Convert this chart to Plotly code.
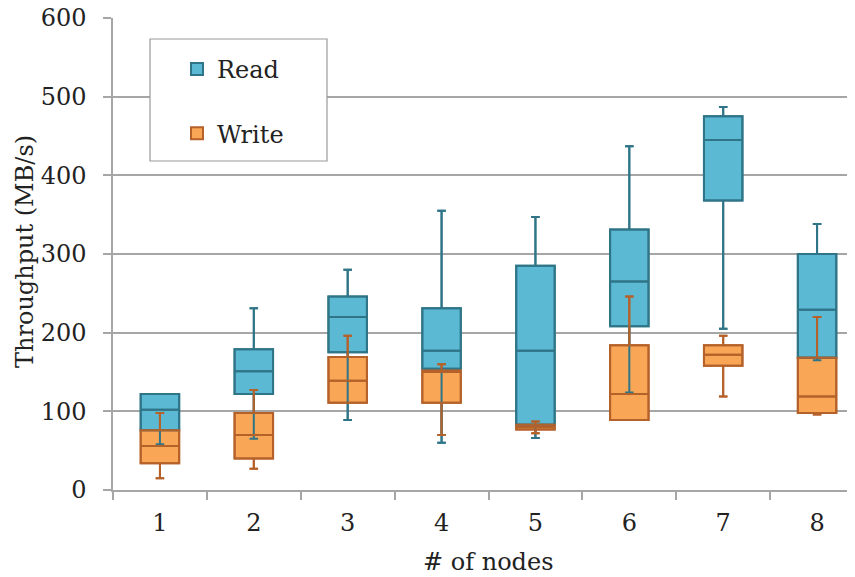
import plotly.graph_objects as go

nodes = ["1", "2", "3", "4", "5", "6", "7", "8"]

read_low = [58, 65, 89, 60, 66, 124, 205, 165]
read_q1 = [76, 122, 175, 154, 83, 208, 368, 168]
read_med = [102, 151, 220, 177, 177, 265, 445, 229]
read_q3 = [122, 179, 246, 231, 285, 331, 475, 300]
read_high = [122, 231, 280, 355, 347, 437, 487, 338]

write_low = [15, 27, 111, 70, 72, 89, 119, 96]
write_q1 = [34, 40, 111, 111, 77, 89, 158, 98]
write_med = [56, 70, 139, 150, 80, 122, 172, 119]
write_q3 = [76, 98, 169, 152, 83, 184, 184, 168]
write_high = [98, 127, 196, 160, 87, 246, 196, 220]

READ_FILL, READ_LINE = "#5BB9D3", "#2F7587"
WRITE_FILL, WRITE_LINE = "#F9A656", "#B5612A"
FONT = "DejaVu Serif"

fig = go.Figure()


def add_box(name, low, q1, med, q3, high, fill, line, show, group):
    fig.add_trace(go.Box(
        name=name, x=nodes, lowerfence=low, q1=q1, median=med, q3=q3,
        upperfence=high, fillcolor=fill, line=dict(color=line, width=2),
        whiskerwidth=0.22, width=0.41, showlegend=show, legendgroup=group,
        boxpoints=False,
    ))


add_box("Read", read_low, read_q1, read_med, read_q3, read_high,
        READ_FILL, READ_LINE, True, "r")
add_box("Write", write_low, write_q1, write_med, write_q3, write_high,
        WRITE_FILL, WRITE_LINE, True, "w")
# whiskers redrawn on top of the boxes
add_box("Read", read_low, read_q1, read_med, read_q3, read_high,
        "rgba(0,0,0,0)", READ_LINE, False, "r")
add_box("Write", write_low, write_q1, write_med, write_q3, write_high,
        "rgba(0,0,0,0)", WRITE_LINE, False, "w")

OFF = 8  # page body margin
W, H = 855 - OFF, 577 - OFF
PL, PT, PB = 113 - OFF, 18 - OFF, 490 - OFF  # plot area in figure px
pw, ph = W - PL, PB - PT


def px(xr):
    return (xr - OFF - PL) / pw


def py(yr):
    return (PB - (yr - OFF)) / ph


fig.update_layout(
    width=W, height=H,
    margin=dict(l=PL, r=0, t=PT, b=H - PB, autoexpand=False),
    paper_bgcolor="white", plot_bgcolor="white",
    boxmode="overlay",
    font=dict(family=FONT, size=24, color="#222222"),
    showlegend=True,
    legend=dict(
        x=px(177), y=py(47), xanchor="left", yanchor="top",
        bgcolor="rgba(0,0,0,0)", borderwidth=0,
        font=dict(family=FONT, size=24, color="#222222"),
        tracegroupgap=30,
    ),
    xaxis=dict(
        type="category", range=[-0.5, 7.404], automargin=False,
        showgrid=False, showline=True, linecolor="#A6A6A6", linewidth=1.5,
        ticks="outside", tickson="boundaries", ticklen=8, tickcolor="#A6A6A6",
        tickwidth=1.5, ticklabelstandoff=10, ticklabeloverflow="allow",
        tickfont=dict(family=FONT, size=24, color="#222222"),
    ),
    yaxis=dict(
        range=[0, 600], dtick=100, showgrid=True, gridcolor="#A6A6A6",
        automargin=False,
        gridwidth=1.5, showline=True, linecolor="#A6A6A6", linewidth=1.5,
        ticks="outside", ticklen=8, tickcolor="#A6A6A6", tickwidth=1.5,
        ticklabelstandoff=12, zeroline=False, ticklabeloverflow="allow",
        tickfont=dict(family=FONT, size=24, color="#222222"),
    ),
    shapes=[dict(
        type="rect", xref="paper", yref="paper", layer="above",
        x0=px(150), x1=px(327), y0=py(161), y1=py(39),
        fillcolor="white", line=dict(color="#999999", width=1.2),
    )],
    annotations=[
        dict(text="# of nodes", xref="x", x=3.5, yref="paper",
             y=py(562), yanchor="middle", showarrow=False,
             font=dict(family=FONT, size=24, color="#222222")),
        dict(text="Throughput (MB/s)", xref="paper", x=px(25),
             yref="paper", y=py(252), textangle=-90,
             xanchor="center", yanchor="middle", showarrow=False,
             font=dict(family=FONT, size=24, color="#222222")),
    ],
)

fig.write_html("out.html")
